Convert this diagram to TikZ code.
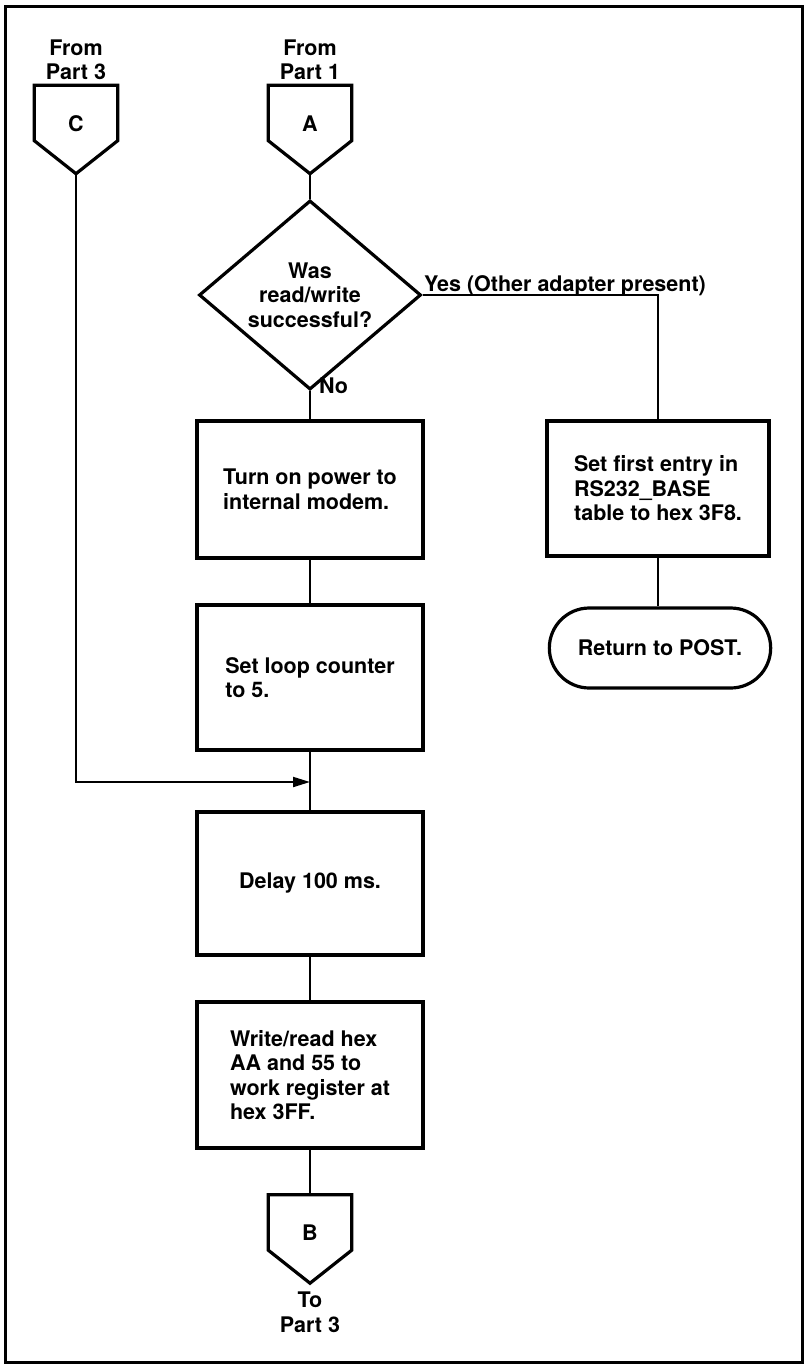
\documentclass[tikz,border=0pt]{standalone}
\usepackage{fontspec}
\setmainfont{TeX Gyre Heros}
\usetikzlibrary{shapes.geometric,shapes.misc,arrows.meta,calc}
\tikzset{
	outline/.style={line width=3.2pt, line join=miter},
	flowbox/.style={
		draw, outline, rectangle, minimum width=226pt,
		inner sep=4pt, align=left, text=black
	},
	offpage/.style={
		minimum width=83pt, minimum height=88pt,
		inner sep=0pt, text depth=12pt
	},
	decision/.style={
		draw, outline, diamond, minimum width=222pt,
		minimum height=148pt, inner sep=0pt, align=center
	},
	terminal/.style={
		draw, outline, rounded rectangle, minimum width=228pt,
		minimum height=80pt
	},
	link/.style={line width=2pt},
}
\begin{document}
\begin{tikzpicture}[x=1pt, y=-1pt,
		font=\fontsize{21.5}{24.5}\selectfont\bfseries
		]
		\useasboundingbox (0,0) rectangle (806,1365);
		\draw[line width=3pt] (5,6) rectangle (802,1362);
		
		% off-page connectors
		\node[align=center] (fromC) at (76,60) {From\\Part 3};
		\node[align=center] (fromA) at (310,60) {From\\Part 1};
		\node[offpage] (C) at (76,129.5) {C};
		\node[offpage] (A) at (310,129.5) {A};
		\node[offpage] (B) at (310,1239) {B};
		\node[align=center] (toB) at (310,1312) {To\\Part 3};
		\foreach \n in {C,A,B}
			\draw[outline] (\n.north west) -- (\n.north east) -- ([yshift=33pt]\n.south east)
				-- (\n.south) -- ([yshift=33pt]\n.south west) -- cycle;
		
		% main column
		\node[decision] (rw) at (310,295) {Was\\read/write\\successful?};
		\node[flowbox, minimum height=137pt] (power) at (310,489.5) {Turn on power to\\internal modem.};
		\node[flowbox, minimum height=145pt] (count) at (310,677.5) {Set loop counter\\to 5.};
		\node[flowbox, minimum height=143pt] (delay) at (310,883.5) {Delay 100 ms.};
		\node[flowbox, minimum height=146pt] (wr) at (310,1075) {Write/read hex\\AA and 55 to\\work register at\\hex 3FF.};
		
		% yes branch
		\node[flowbox, minimum width=222pt, minimum height=135pt] (base) at (658,488.5) {Set first entry in\\RS232\_BASE\\table to hex 3F8.};
		\node[terminal] (ret) at (660,648) {Return to POST.};
		
		\node[anchor=base west, inner sep=0pt] (yes) at (424,291) {Yes (Other adapter present)};
		\node[anchor=base west, inner sep=0pt] (no) at (319,393) {No};
		
		\coordinate (merge) at (310,782);
		
		\draw[link] (A.south) -- (rw.north);
		\draw[link] (rw.east) -| (base.north);
		\draw[link] (rw.south) -- (power.north);
		\draw[link] (power) -- (count);
		\draw[link] (count) -- (delay);
		\draw[link] (delay) -- (wr);
		\draw[link] (wr) -- (B);
		\draw[link] (base.south) -- (base.south |- ret.north);
		\draw[link, -{Triangle[length=17pt,width=10pt]}] (C.south) |- (merge);
	\end{tikzpicture}
\end{document}
